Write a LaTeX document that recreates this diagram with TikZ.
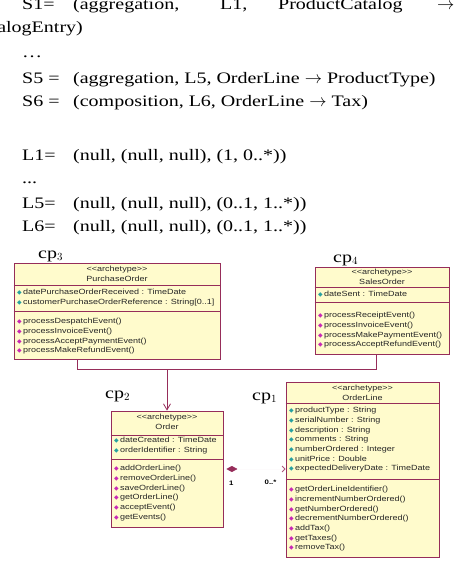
\documentclass[tikz,border=0pt]{standalone}
\usepackage{fontspec}
\setmainfont{Liberation Serif}[FakeStretch=1.25]
\newfontfamily\umlfont{Liberation Sans}[FakeStretch=1.2]
\newfontfamily\iconfont{DejaVu Sans}
\usepackage{xcolor}
\usetikzlibrary{arrows.meta,positioning,calc}

\definecolor{classcol}{RGB}{150,45,90}
\definecolor{classfill}{RGB}{255,251,204}
\definecolor{attrcol}{RGB}{40,160,160}
\definecolor{opcol}{RGB}{200,40,180}

\newcommand{\attricon}{{\color{attrcol}\iconfont\fontsize{6}{6}\selectfont ◆}\,}
\newcommand{\opicon}{{\color{opcol}\iconfont\fontsize{6}{6}\selectfont ◆}\,}
\newcommand{\archetype}{<{}<archetype>{}>}

\begin{document}
\begin{tikzpicture}[
  x=1pt, y=-1pt,
  classbox/.style={draw=classcol, fill=classfill, line width=0.8pt, inner sep=0pt},
  classline/.style={draw=classcol, line width=0.8pt},
  umltext/.style={font=\umlfont\fontsize{7.5}{9.7}\selectfont, inner sep=0pt, align=left, text=black!85},
  headtext/.style={umltext, align=center},
  eqtext/.style={font=\fontsize{16}{19}\selectfont, inner sep=0pt, anchor=base west},
  cplabel/.style={font=\fontsize{16}{19}\selectfont, inner sep=0pt, anchor=base west},
  mult/.style={font=\umlfont\bfseries\fontsize{6.5}{7}\selectfont, inner sep=0pt},
  genarrow/.style={classline, -{Straight Barb[length=6pt,width=7pt]}},
  comparrow/.style={draw=classcol!2, {Diamond[length=11pt,width=6pt,color=classcol,fill=classcol,sep=3pt]}-{Straight Barb[length=3pt,width=6pt,color=classcol!80,line width=0.8pt]}}
]
\useasboundingbox (0,0) rectangle (457,561);
\clip (0,0) rectangle (457,561);

% Relationship definitions
\node[eqtext] (s1) at (22,10) {S1=};
\node[eqtext] (s1a) at (73,10) {(aggregation,};
\node[eqtext] (s1b) at (220,10) {L1,};
\node[eqtext] (s1c) at (278,10) {ProductCatalog};
\node[eqtext] (s1d) at (437,10) {$\rightarrow$};
\node[eqtext, anchor=base east] (s1e) at (83,33) {ProductCatalogEntry)};
\node[eqtext] (sdots) at (22,58) {\ldots};
\node[eqtext] (s5) at (22,84) {S5 =};
\node[eqtext] (s5a) at (73,84) {(aggregation, L5, OrderLine $\rightarrow$ ProductType)};
\node[eqtext] (s6) at (22,107) {S6 =};
\node[eqtext] (s6a) at (73,107) {(composition, L6, OrderLine $\rightarrow$ Tax)};

% Link definitions
\node[eqtext] (l1) at (22,161) {L1=};
\node[eqtext] (l1a) at (73,161) {(null, (null, null), (1, 0..*))};
\node[eqtext] (ldots) at (22,184) {...};
\node[eqtext] (l5) at (22,208) {L5=};
\node[eqtext] (l5a) at (73,208) {(null, (null, null), (0..1, 1..*))};
\node[eqtext] (l6) at (22,231) {L6=};
\node[eqtext] (l6a) at (73,231) {(null, (null, null), (0..1, 1..*))};

% PurchaseOrder
\node[classbox, minimum width=206pt, minimum height=96pt] (po) at (117,311) {};
\draw[classline] (po.west |- 0,285) -- (po.east |- 0,285);
\draw[classline] (po.west |- 0,311) -- (po.east |- 0,311);
\node[headtext, anchor=north] (po-head) at (117,266) {\archetype\\PurchaseOrder};
\node[umltext, anchor=north west] (po-attr) at (17,289) {\attricon datePurchaseOrderReceived : TimeDate\\
  \attricon customerPurchaseOrderReference : String[0..1]};
\node[umltext, anchor=north west] (po-op) at (17,318) {\opicon processDespatchEvent()\\
  \opicon processInvoiceEvent()\\
  \opicon processAcceptPaymentEvent()\\
  \opicon processMakeRefundEvent()};

% SalesOrder
\node[classbox, minimum width=134pt, minimum height=87pt] (so) at (382,310.5) {};
\draw[classline] (so.west |- 0,287) -- (so.east |- 0,287);
\draw[classline] (so.west |- 0,302) -- (so.east |- 0,302);
\node[headtext, anchor=north] (so-head) at (382,269) {\archetype\\SalesOrder};
\node[umltext, anchor=north west] (so-attr) at (318,291) {\attricon dateSent : TimeDate};
\node[umltext, anchor=north west] (so-op) at (318,312) {\opicon processReceiptEvent()\\
  \opicon processInvoiceEvent()\\
  \opicon processMakePaymentEvent()\\
  \opicon processAcceptRefundEvent()};

% Order
\node[classbox, minimum width=112pt, minimum height=116pt] (ord) at (167,469) {};
\draw[classline] (ord.west |- 0,435) -- (ord.east |- 0,435);
\draw[classline] (ord.west |- 0,459) -- (ord.east |- 0,459);
\node[headtext, anchor=north] (ord-head) at (167,414) {\archetype\\Order};
\node[umltext, anchor=north west] (ord-attr) at (114,437) {\attricon dateCreated : TimeDate\\
  \attricon orderIdentifier : String};
\node[umltext, anchor=north west] (ord-op) at (114,465) {\opicon addOrderLine()\\
  \opicon removeOrderLine()\\
  \opicon saveOrderLine()\\
  \opicon getOrderLine()\\
  \opicon acceptEvent()\\
  \opicon getEvents()};

% OrderLine
\node[classbox, minimum width=153pt, minimum height=175pt] (ol) at (362.5,469.5) {};
\draw[classline] (ol.west |- 0,403) -- (ol.east |- 0,403);
\draw[classline] (ol.west |- 0,479) -- (ol.east |- 0,479);
\node[headtext, anchor=north] (ol-head) at (362.5,385) {\archetype\\OrderLine};
\node[umltext, anchor=north west] (ol-attr) at (289,407) {\attricon productType : String\\
  \attricon serialNumber : String\\
  \attricon description : String\\
  \attricon comments : String\\
  \attricon numberOrdered : Integer\\
  \attricon unitPrice : Double\\
  \attricon expectedDeliveryDate : TimeDate};
\node[umltext, anchor=north west] (ol-op) at (289,486) {\opicon getOrderLineIdentifier()\\
  \opicon incrementNumberOrdered()\\
  \opicon getNumberOrdered()\\
  \opicon decrementNumberOrdered()\\
  \opicon addTax()\\
  \opicon getTaxes()\\
  \opicon removeTax()};

% cp labels
\node[cplabel] (cp3) at (38,258) {cp$_3$};
\node[cplabel] (cp4) at (333,262) {cp$_4$};
\node[cplabel] (cp2) at (105,398) {cp$_2$};
\node[cplabel] (cp1) at (252,400) {cp$_1$};

% generalization
\coordinate (gen) at (167,369);
\draw[classline] ([xshift=-40pt]po.south) |- (gen);
\draw[classline] ([xshift=-6pt]so.south) |- (gen);
\draw[genarrow] (gen) -- (ord.north);

% composition
\draw[comparrow] (ord.east) -- (ol.west |- ord.east);
\node[mult] (m-one) at ([xshift=8pt,yshift=-14pt]ord.east) {1};
\node[mult, anchor=east] (m-many) at ([xshift=-9pt,yshift=-13pt]ol.west) {0..*};

\end{tikzpicture}
\end{document}
